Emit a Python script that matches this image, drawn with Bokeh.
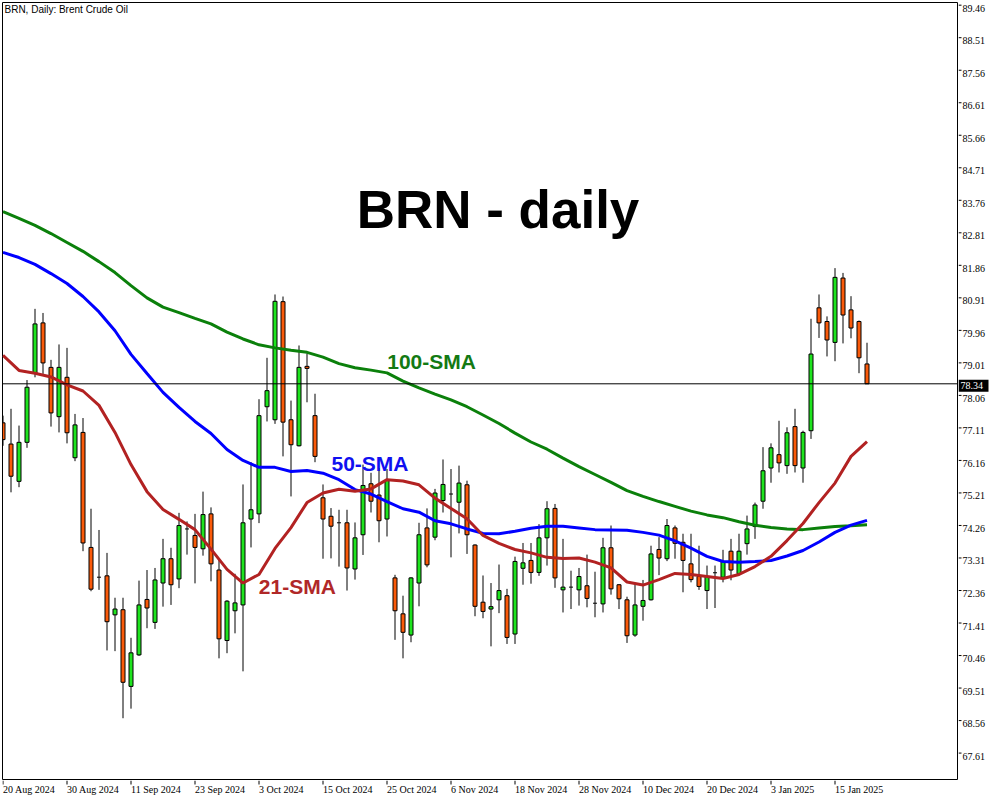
from bokeh.plotting import figure
from bokeh.layouts import row, column
from bokeh.models import ColumnDataSource, Span, Label, Range1d
from bokeh.embed import file_html
from bokeh.resources import INLINE

# Brent crude, daily OHLC, 20 Aug 2024 - 21 Jan 2025 (one entry per trading bar)
opens = [
    77.20, 76.58, 75.49, 76.63, 78.65, 80.12, 78.82, 77.38, 78.53, 76.18,
    76.92, 73.56, 72.69, 72.73, 71.59, 71.74, 69.50, 70.42, 72.04, 71.37,
    72.52, 73.23, 72.64, 74.10, 73.91, 73.52, 74.54, 72.90, 70.84, 71.71,
    71.88, 74.39, 74.54, 77.67, 77.29, 80.74, 77.29, 76.53, 78.85, 77.41,
    75.01, 74.47, 74.28, 74.28, 72.93, 73.93, 75.42, 75.09, 74.39, 72.67,
    71.62, 71.00, 72.52, 74.13, 73.86, 74.93, 75.12, 74.88, 75.39, 73.63,
    71.96, 71.76, 72.03, 72.15, 71.03, 72.95, 73.18, 72.83, 73.84, 74.70,
    72.32, 72.40, 72.32, 72.44, 71.93, 71.91, 73.55, 72.47, 72.03, 71.00,
    71.84, 72.03, 73.50, 73.23, 74.13, 73.71, 73.08, 72.71, 72.30, 72.82,
    72.69, 73.45, 72.79, 73.67, 74.17, 74.91, 75.88, 76.27, 75.95, 77.09,
    75.88, 76.97, 80.56, 80.16, 79.55, 81.43, 80.50, 80.16, 78.92,
]
highs = [
    77.41, 77.61, 77.12, 78.45, 80.53, 80.41, 79.04, 79.49, 79.39, 77.46,
    77.34, 74.69, 74.07, 73.40, 72.09, 72.09, 70.92, 72.59, 72.90, 72.96,
    73.81, 73.55, 74.57, 74.32, 74.54, 75.19, 74.73, 73.20, 72.02, 72.79,
    75.40, 76.05, 77.89, 79.10, 80.95, 80.89, 77.85, 79.46, 79.23, 78.05,
    75.40, 74.71, 74.66, 74.66, 74.29, 75.98, 75.74, 75.88, 75.85, 72.76,
    72.15, 72.69, 74.28, 74.70, 75.27, 76.13, 75.85, 75.95, 75.51, 73.65,
    72.74, 72.52, 73.06, 72.35, 73.29, 73.69, 73.69, 74.24, 74.91, 74.83,
    73.81, 72.88, 72.96, 73.35, 72.85, 73.84, 74.20, 72.49, 72.12, 72.51,
    72.61, 73.61, 73.86, 74.39, 74.20, 73.96, 73.96, 73.61, 73.03, 73.03,
    73.49, 73.81, 73.96, 74.49, 74.87, 76.49, 76.60, 77.26, 77.07, 77.61,
    76.97, 80.24, 80.95, 80.31, 81.72, 81.58, 80.90, 80.19, 79.54,
]
lows = [
    76.53, 75.17, 75.32, 76.47, 78.53, 78.63, 77.09, 76.92, 76.60, 76.08,
    73.45, 72.28, 72.32, 70.55, 70.53, 68.57, 68.85, 70.39, 71.20, 71.18,
    71.83, 71.88, 72.37, 73.35, 72.51, 73.32, 72.57, 70.32, 70.47, 71.05,
    69.94, 73.56, 74.27, 77.24, 77.17, 76.22, 75.05, 76.51, 77.80, 76.05,
    73.23, 73.24, 73.00, 72.30, 72.62, 73.34, 74.58, 73.71, 73.88, 70.86,
    70.32, 70.79, 71.84, 72.98, 73.77, 74.58, 73.27, 73.97, 73.37, 71.55,
    71.49, 70.67, 71.64, 70.74, 70.74, 72.47, 72.50, 72.73, 73.03, 72.38,
    71.66, 71.76, 71.86, 71.81, 71.52, 71.66, 72.18, 71.76, 70.77, 70.95,
    71.42, 72.01, 72.75, 73.16, 73.23, 72.25, 72.54, 72.32, 71.76, 71.79,
    72.54, 72.60, 72.74, 73.35, 73.81, 74.69, 75.45, 75.75, 75.71, 75.75,
    75.45, 76.73, 79.68, 79.14, 79.00, 79.52, 79.67, 78.65, 78.34,
]
closes = [
    76.71, 75.64, 76.63, 78.24, 80.09, 78.95, 77.49, 78.82, 76.91, 77.14,
    73.69, 72.34, 72.69, 71.39, 71.76, 69.62, 70.48, 71.88, 71.79, 72.61,
    73.23, 72.47, 74.20, 74.10, 73.56, 74.52, 73.08, 70.89, 71.99, 71.94,
    74.28, 74.66, 77.41, 78.14, 80.75, 77.22, 76.56, 78.82, 78.79, 76.22,
    74.39, 74.18, 74.28, 72.96, 73.84, 75.37, 74.91, 74.34, 75.53, 71.71,
    71.08, 72.67, 73.93, 73.05, 75.15, 75.40, 75.12, 75.44, 73.93, 71.84,
    71.69, 71.83, 72.30, 70.93, 73.15, 73.11, 72.83, 73.84, 74.69, 72.67,
    72.40, 72.40, 72.71, 72.07, 71.93, 73.55, 72.35, 72.06, 70.98, 71.88,
    72.01, 73.37, 73.25, 74.20, 73.68, 73.18, 72.62, 72.42, 72.71, 72.82,
    73.15, 72.90, 73.45, 74.10, 74.80, 75.80, 76.47, 76.03, 76.91, 75.95,
    76.92, 79.21, 80.12, 79.62, 81.45, 80.35, 79.97, 79.10, 78.34,
]

# moving averages, sampled on every second bar
sma_bars = list(range(0, 109, 2))
sma21 = [
    79.17, 78.73, 78.65, 78.54, 78.31, 78.13, 77.71, 76.92, 75.98, 75.19,
    74.67, 74.38, 74.08, 73.51, 72.92, 72.52, 72.77, 73.53, 74.14, 74.87,
    75.15, 75.26, 75.20, 75.27, 75.54, 75.50, 75.39, 75.00, 74.70, 74.40,
    73.91, 73.68, 73.50, 73.40, 73.27, 73.24, 73.25, 73.13, 72.96, 72.55,
    72.46, 72.62, 72.80, 72.77, 72.71, 72.65, 72.77, 73.00, 73.30, 73.76,
    74.26, 74.87, 75.44, 76.22, 76.65,
]
sma50 = [
    82.18, 82.03, 81.83, 81.56, 81.27, 80.89, 80.44, 79.89, 79.20, 78.64,
    78.09, 77.65, 77.24, 76.89, 76.42, 76.10, 75.90, 75.90, 75.78, 75.81,
    75.73, 75.54, 75.25, 75.12, 74.90, 74.69, 74.59, 74.34, 74.25, 74.10,
    73.97, 73.96, 74.03, 74.12, 74.18, 74.18, 74.13, 74.08, 74.07, 74.06,
    74.00, 73.92, 73.75, 73.54, 73.30, 73.15, 73.13, 73.15, 73.18, 73.31,
    73.47, 73.72, 74.00, 74.21, 74.35,
]
sma100 = [
    83.37, 83.17, 82.97, 82.73, 82.47, 82.21, 81.91, 81.59, 81.21, 80.85,
    80.58, 80.42, 80.25, 80.09, 79.85, 79.65, 79.48, 79.39, 79.32, 79.26,
    79.12, 78.93, 78.81, 78.74, 78.66, 78.42, 78.22, 78.04, 77.87, 77.67,
    77.43, 77.18, 76.90, 76.64, 76.43, 76.17, 75.92, 75.69, 75.46, 75.22,
    75.05, 74.90, 74.76, 74.62, 74.51, 74.43, 74.31, 74.21, 74.14, 74.10,
    74.08, 74.13, 74.17, 74.19, 74.22,
]

date_ticks = [0, 8, 16, 24, 32, 40, 48, 56, 64, 72, 80, 88, 96, 104]
date_labels = ["20 Aug 2024", "30 Aug 2024", "11 Sep 2024", "23 Sep 2024",
               "3 Oct 2024", "15 Oct 2024", "25 Oct 2024", "6 Nov 2024",
               "18 Nov 2024", "28 Nov 2024", "10 Dec 2024", "20 Dec 2024",
               "3 Jan 2025", "15 Jan 2025"]
price_ticks = [89.46, 88.51, 87.56, 86.61, 85.66, 84.71, 83.76, 82.81,
               81.86, 80.91, 79.96, 79.01, 78.06, 77.11, 76.16, 75.21,
               74.26, 73.31, 72.36, 71.41, 70.46, 69.51, 68.56, 67.61]

UP = "#1fe41f"
DOWN = "#fa5a0a"
FONT = "Liberation Sans"

FRAME_W, FRAME_H = 955, 777      # chart area in pixels
BAR_PX = 8                       # horizontal pixels per bar
SCALE_W, DATE_H = 42, 20         # price scale strip / date strip sizes
PRICE_LO, PRICE_HI = 66.78, 89.48
PX_PER_PRICE = FRAME_H / (PRICE_HI - PRICE_LO)

x0 = -0.5 / BAR_PX
x_range = Range1d(x0, x0 + FRAME_W / BAR_PX)

bars = list(range(len(closes)))
solid = [i for i in bars if opens[i] != closes[i]]
doji = [i for i in bars if opens[i] == closes[i]]

body_src = ColumnDataSource(dict(
    x=solid,
    top=[max(opens[i], closes[i]) for i in solid],
    bottom=[min(opens[i], closes[i]) for i in solid],
    color=[UP if closes[i] > opens[i] else DOWN for i in solid],
))
wick_src = ColumnDataSource(dict(x=bars, hi=highs, lo=lows))
doji_src = ColumnDataSource(dict(
    x0=[i - 0.25 for i in doji], x1=[i + 0.25 for i in doji],
    y=[opens[i] for i in doji],
))


def bare(**kw):
    f = figure(toolbar_location=None, output_backend="svg",
               x_axis_location=None, y_axis_location=None,
               background_fill_color="white", border_fill_color="white", **kw)
    f.grid.visible = False
    return f


# ---- main chart area
p = bare(frame_width=FRAME_W, frame_height=FRAME_H,
         x_range=x_range, y_range=Range1d(PRICE_LO, PRICE_HI),
         min_border_left=2, min_border_top=2,
         min_border_right=1, min_border_bottom=1)
p.outline_line_color = "black"
p.outline_line_width = 1

p.segment(x0="x", y0="lo", x1="x", y1="hi", source=wick_src,
          line_color="black", line_width=1)
p.vbar(x="x", width=0.5, top="top", bottom="bottom", source=body_src,
       fill_color="color", line_color="black", line_width=1)
p.segment(x0="x0", y0="y", x1="x1", y1="y", source=doji_src,
          line_color="black", line_width=1)

p.line(sma_bars, sma100, line_color="#0b800b", line_width=3)
p.line(sma_bars, sma50, line_color="#0000ff", line_width=3)
p.line(sma_bars, sma21, line_color="#b22222", line_width=3)

last = closes[-1]
p.add_layout(Span(location=last, dimension="width", line_color="black", line_width=1))

p.add_layout(Label(x=2, y=FRAME_H - 1, x_units="screen", y_units="screen",
                   text="BRN, Daily:  Brent Crude Oil", text_align="left",
                   text_baseline="top", text_font=FONT,
                   text_font_size="10px", text_color="black"))
p.add_layout(Label(x=61.875, y=83.43, text="BRN - daily", text_align="center",
                   text_baseline="middle", text_font=FONT,
                   text_font_size="53px", text_font_style="bold",
                   text_color="black"))
p.add_layout(Label(x=48.03, y=78.99, text="100-SMA", text_align="left",
                   text_baseline="middle", text_font=FONT,
                   text_font_size="21px", text_font_style="bold",
                   text_color="#137a13"))
p.add_layout(Label(x=41.06, y=76.00, text="50-SMA", text_align="left",
                   text_baseline="middle", text_font=FONT,
                   text_font_size="21px", text_font_style="bold",
                   text_color="#1010f0"))
p.add_layout(Label(x=31.98, y=72.43, text="21-SMA", text_align="left",
                   text_baseline="middle", text_font=FONT,
                   text_font_size="21px", text_font_style="bold",
                   text_color="#b02828"))

# ---- price scale (same price-to-pixel mapping as the chart, 2 px taller on top)
ps = bare(frame_width=SCALE_W, frame_height=FRAME_H + 2,
          x_range=Range1d(0, SCALE_W),
          y_range=Range1d(PRICE_LO, PRICE_HI + 2 / PX_PER_PRICE),
          min_border_left=0, min_border_right=0,
          min_border_top=0, min_border_bottom=1)
ps.outline_line_color = None
ps.segment(x0=0, x1=3, y0=price_ticks, y1=price_ticks,
           line_color="black", line_width=1)
ps.text(x=4, y=price_ticks, text=[f"{t:.2f}" for t in price_ticks],
        text_align="left", text_baseline="middle", y_offset=3,
        text_font=FONT, text_font_size="10px", text_color="black")
ps.rect(x=15, y=last, width=30, height=12, height_units="screen",
        fill_color="black", line_color=None)
ps.text(x=2, y=[last], text=[f"{last:.2f}"], text_align="left",
        text_baseline="middle", text_font=FONT, text_font_size="10px",
        text_color="white")

# ---- date scale
ds = bare(frame_width=FRAME_W, frame_height=DATE_H,
          x_range=x_range, y_range=Range1d(0, DATE_H),
          min_border_left=2, min_border_right=SCALE_W + 1,
          min_border_top=0, min_border_bottom=0)
ds.outline_line_color = None
ds.segment(x0=date_ticks, x1=date_ticks, y0=DATE_H, y1=DATE_H - 4,
           line_color="black", line_width=1)
ds.text(x=date_ticks, y=DATE_H - 3, text=date_labels, text_align="left",
        text_baseline="top", text_font=FONT, text_font_size="10px",
        text_color="black")

layout = column(row(p, ps, spacing=0), ds, spacing=0)

open("out.html", "w").write(file_html(layout, INLINE, title="BRN, Daily"))
